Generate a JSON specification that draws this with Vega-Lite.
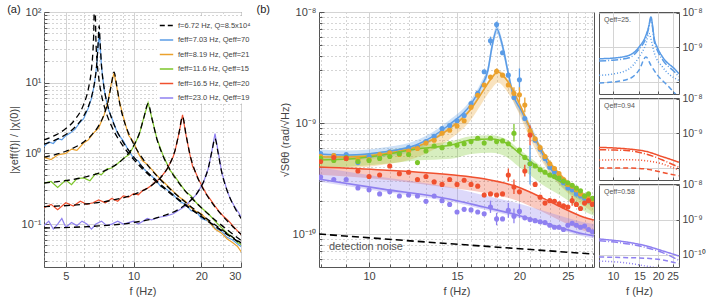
{
"$schema":"https://vega.github.io/schema/vega-lite/v6.json",
"padding":{"left":6,"top":3,"right":1,"bottom":1},
"bounds":"flush",
"spacing":78,
"resolve":{"scale":{"color":"independent","stroke":"independent","strokeDash":"independent"},"legend":{"color":"independent","stroke":"independent","strokeDash":"independent"}},
"config":{
 "font":"Liberation Sans",
 "view":{"stroke":"#555","strokeWidth":1},
 "axis":{"labelFont":"Liberation Sans","labelColor":"#444","labelFontSize":11,"titleFont":"Liberation Sans","titleFontWeight":"normal","titleColor":"#444","titleFontSize":11,"domain":false,"gridColor":"#d4d4d4","tickColor":"#555","tickSize":-4,"labelPadding":7},
 "legend":{"labelFont":"Liberation Sans","labelColor":"#444"}
},
"datasets":{
 "a_fit":[
  {"s":"k","f":4,"v":1.549},{"s":"k","f":4.5,"v":1.813},{"s":"k","f":5,"v":2.24},{"s":"k","f":5.5,"v":3.029},{"s":"k","f":6,"v":4.931},{"s":"k","f":6.3,"v":8.26},{"s":"k","f":6.5,"v":15.5},{"s":"k","f":6.6,"v":28.2},{"s":"k","f":6.65,"v":48.2},{"s":"k","f":6.69,"v":112},{"s":"k","f":6.75,"v":111.7},{"s":"k","f":6.8,"v":41.7},{"s":"k","f":6.9,"v":18.4},{"s":"k","f":7,"v":11.76},{"s":"k","f":7.2,"v":6.76},{"s":"k","f":7.5,"v":4.07},{"s":"k","f":8,"v":2.397},{"s":"k","f":9,"v":1.26},{"s":"k","f":10,"v":0.8234},{"s":"k","f":12,"v":0.4569},{"s":"k","f":15,"v":0.2511},{"s":"k","f":20,"v":0.1271},{"s":"k","f":25,"v":0.0779},{"s":"k","f":31,"v":0.0493},
  {"s":"b","f":4,"v":1.351},{"s":"b","f":4.5,"v":1.548},{"s":"b","f":5,"v":1.849},{"s":"b","f":5.5,"v":2.356},{"s":"b","f":6,"v":3.365},{"s":"b","f":6.3,"v":4.631},{"s":"b","f":6.5,"v":6.271},{"s":"b","f":6.7,"v":9.859},{"s":"b","f":6.85,"v":17.43},{"s":"b","f":6.95,"v":34.25},{"s":"b","f":7.03,"v":63.96},{"s":"b","f":7.1,"v":37.02},{"s":"b","f":7.2,"v":17.89},{"s":"b","f":7.4,"v":8.378},{"s":"b","f":7.7,"v":4.562},{"s":"b","f":8,"v":3.097},{"s":"b","f":8.5,"v":1.978},{"s":"b","f":9,"v":1.43},{"s":"b","f":10,"v":0.8928},{"s":"b","f":11,"v":0.6309},{"s":"b","f":12.5,"v":0.4227},{"s":"b","f":14,"v":0.3081},{"s":"b","f":16,"v":0.2186},{"s":"b","f":19,"v":0.1449},{"s":"b","f":23,"v":0.09416},{"s":"b","f":27,"v":0.06645},{"s":"b","f":31,"v":0.04954},
  {"s":"o","f":4,"v":0.8837},{"s":"o","f":5,"v":1.0721},{"s":"o","f":6,"v":1.449},{"s":"o","f":6.5,"v":1.8095},{"s":"o","f":7,"v":2.4702},{"s":"o","f":7.4,"v":3.57},{"s":"o","f":7.7,"v":5.411},{"s":"o","f":7.95,"v":9.102},{"s":"o","f":8.19,"v":14.138},{"s":"o","f":8.4,"v":9.443},{"s":"o","f":8.7,"v":4.878},{"s":"o","f":9,"v":3.145},{"s":"o","f":9.5,"v":1.924},{"s":"o","f":10,"v":1.362},{"s":"o","f":11,"v":0.8348},{"s":"o","f":12,"v":0.586},{"s":"o","f":14,"v":0.35},{"s":"o","f":17,"v":0.2035},{"s":"o","f":20,"v":0.1356},{"s":"o","f":24,"v":0.0887},{"s":"o","f":28,"v":0.063},{"s":"o","f":31,"v":0.0505},
  {"s":"g","f":4,"v":0.3809},{"s":"g","f":5,"v":0.4119},{"s":"g","f":6,"v":0.4577},{"s":"g","f":7,"v":0.5267},{"s":"g","f":8,"v":0.6376},{"s":"g","f":9,"v":0.8361},{"s":"g","f":10,"v":1.2751},{"s":"g","f":10.6,"v":1.9082},{"s":"g","f":11.1,"v":3.1736},{"s":"g","f":11.6,"v":5.034},{"s":"g","f":12.1,"v":2.9908},{"s":"g","f":12.7,"v":1.5858},{"s":"g","f":13.5,"v":0.925},{"s":"g","f":14.5,"v":0.5902},{"s":"g","f":16,"v":0.3699},{"s":"g","f":18,"v":0.2377},{"s":"g","f":20,"v":0.17},{"s":"g","f":23,"v":0.1145},{"s":"g","f":27,"v":0.076},{"s":"g","f":31,"v":0.0546},
  {"s":"r","f":4,"v":0.1762},{"s":"r","f":6,"v":0.1911},{"s":"r","f":8,"v":0.2167},{"s":"r","f":10,"v":0.2619},{"s":"r","f":12,"v":0.3511},{"s":"r","f":13.5,"v":0.498},{"s":"r","f":14.5,"v":0.7152},{"s":"r","f":15.3,"v":1.1236},{"s":"r","f":15.9,"v":1.9258},{"s":"r","f":16.5,"v":3.317},{"s":"r","f":17.1,"v":1.8353},{"s":"r","f":17.8,"v":0.9619},{"s":"r","f":18.8,"v":0.5463},{"s":"r","f":20,"v":0.3506},{"s":"r","f":22,"v":0.2125},{"s":"r","f":25,"v":0.1278},{"s":"r","f":28,"v":0.0882},{"s":"r","f":31,"v":0.0656},
  {"s":"p","f":4,"v":0.088},{"s":"p","f":7,"v":0.0941},{"s":"p","f":10,"v":0.1053},{"s":"p","f":13,"v":0.1253},{"s":"p","f":16,"v":0.165},{"s":"p","f":18,"v":0.2191},{"s":"p","f":19.5,"v":0.2998},{"s":"p","f":20.5,"v":0.4048},{"s":"p","f":21.5,"v":0.6303},{"s":"p","f":22.3,"v":1.0844},{"s":"p","f":23,"v":1.622},{"s":"p","f":23.7,"v":1.0383},{"s":"p","f":24.6,"v":0.5522},{"s":"p","f":26,"v":0.3004},{"s":"p","f":28,"v":0.1756},{"s":"p","f":31,"v":0.1041}
 ],
 "a_dat":[
  {"s":"b","f":4,"v":1.25},{"s":"b","f":4.2,"v":1.45},{"s":"b","f":4.4,"v":1.38},{"s":"b","f":4.6,"v":1.62},{"s":"b","f":4.8,"v":1.55},{"s":"b","f":5,"v":1.78},{"s":"b","f":5.25,"v":1.95},{"s":"b","f":5.5,"v":2.2},{"s":"b","f":5.75,"v":2.7},{"s":"b","f":6,"v":3.1},{"s":"b","f":6.3,"v":4.4},{"s":"b","f":6.5,"v":6.0},{"s":"b","f":6.7,"v":9.5},{"s":"b","f":6.85,"v":17},{"s":"b","f":6.95,"v":31},{"s":"b","f":7.03,"v":52},{"s":"b","f":7.1,"v":35},{"s":"b","f":7.2,"v":17},{"s":"b","f":7.4,"v":8.0},{"s":"b","f":7.7,"v":4.3},{"s":"b","f":8,"v":3.2},{"s":"b","f":8.5,"v":1.9},{"s":"b","f":9,"v":1.5},{"s":"b","f":9.5,"v":1.1},{"s":"b","f":10,"v":0.85},{"s":"b","f":10.5,"v":0.78},{"s":"b","f":11,"v":0.62},{"s":"b","f":11.8,"v":0.5},{"s":"b","f":12.5,"v":0.43},{"s":"b","f":13.2,"v":0.34},{"s":"b","f":14,"v":0.31},{"s":"b","f":15,"v":0.26},{"s":"b","f":16,"v":0.21},{"s":"b","f":17,"v":0.19},{"s":"b","f":18,"v":0.155},{"s":"b","f":19,"v":0.15},{"s":"b","f":20,"v":0.12},{"s":"b","f":21.5,"v":0.11},{"s":"b","f":23,"v":0.088},{"s":"b","f":24.5,"v":0.08},{"s":"b","f":26,"v":0.065},{"s":"b","f":27.5,"v":0.06},{"s":"b","f":29,"v":0.052},{"s":"b","f":31,"v":0.045},
  {"s":"o","f":4,"v":0.88},{"s":"o","f":4.3,"v":0.82},{"s":"o","f":4.6,"v":0.95},{"s":"o","f":5,"v":1.0},{"s":"o","f":5.3,"v":1.15},{"s":"o","f":5.6,"v":1.1},{"s":"o","f":6,"v":1.4},{"s":"o","f":6.3,"v":1.55},{"s":"o","f":6.6,"v":1.9},{"s":"o","f":7,"v":2.3},{"s":"o","f":7.4,"v":3.5},{"s":"o","f":7.7,"v":5.5},{"s":"o","f":7.95,"v":9.5},{"s":"o","f":8.19,"v":13.8},{"s":"o","f":8.4,"v":9.0},{"s":"o","f":8.7,"v":5.0},{"s":"o","f":9,"v":3.3},{"s":"o","f":9.5,"v":1.8},{"s":"o","f":10,"v":1.45},{"s":"o","f":10.5,"v":1.0},{"s":"o","f":11,"v":0.78},{"s":"o","f":11.5,"v":0.7},{"s":"o","f":12,"v":0.6},{"s":"o","f":13,"v":0.45},{"s":"o","f":14,"v":0.36},{"s":"o","f":15,"v":0.29},{"s":"o","f":16,"v":0.24},{"s":"o","f":17,"v":0.21},{"s":"o","f":18,"v":0.17},{"s":"o","f":19,"v":0.15},{"s":"o","f":20,"v":0.14},{"s":"o","f":21.5,"v":0.11},{"s":"o","f":23,"v":0.085},{"s":"o","f":24.5,"v":0.075},{"s":"o","f":26,"v":0.062},{"s":"o","f":27.5,"v":0.055},{"s":"o","f":29,"v":0.048},{"s":"o","f":31,"v":0.035},
  {"s":"g","f":4,"v":0.38},{"s":"g","f":4.3,"v":0.4},{"s":"g","f":4.6,"v":0.33},{"s":"g","f":5,"v":0.42},{"s":"g","f":5.3,"v":0.36},{"s":"g","f":5.6,"v":0.44},{"s":"g","f":6,"v":0.45},{"s":"g","f":6.4,"v":0.41},{"s":"g","f":6.8,"v":0.52},{"s":"g","f":7.2,"v":0.5},{"s":"g","f":7.6,"v":0.6},{"s":"g","f":8,"v":0.62},{"s":"g","f":8.5,"v":0.72},{"s":"g","f":9,"v":0.85},{"s":"g","f":9.5,"v":0.95},{"s":"g","f":10,"v":1.25},{"s":"g","f":10.6,"v":1.85},{"s":"g","f":11.1,"v":3.2},{"s":"g","f":11.6,"v":5.2},{"s":"g","f":12.1,"v":3.0},{"s":"g","f":12.7,"v":1.6},{"s":"g","f":13.5,"v":0.95},{"s":"g","f":14.5,"v":0.58},{"s":"g","f":15.2,"v":0.48},{"s":"g","f":16,"v":0.38},{"s":"g","f":17,"v":0.29},{"s":"g","f":18,"v":0.25},{"s":"g","f":19,"v":0.2},{"s":"g","f":20,"v":0.17},{"s":"g","f":21.5,"v":0.14},{"s":"g","f":23,"v":0.11},{"s":"g","f":24.5,"v":0.09},{"s":"g","f":26,"v":0.075},{"s":"g","f":27.5,"v":0.065},{"s":"g","f":29,"v":0.055},{"s":"g","f":31,"v":0.048},
  {"s":"r","f":4,"v":0.17},{"s":"r","f":4.3,"v":0.19},{"s":"r","f":4.6,"v":0.16},{"s":"r","f":5,"v":0.2},{"s":"r","f":5.4,"v":0.18},{"s":"r","f":5.8,"v":0.21},{"s":"r","f":6.2,"v":0.19},{"s":"r","f":6.6,"v":0.2},{"s":"r","f":7,"v":0.22},{"s":"r","f":7.5,"v":0.2},{"s":"r","f":8,"v":0.23},{"s":"r","f":8.5,"v":0.21},{"s":"r","f":9,"v":0.25},{"s":"r","f":9.5,"v":0.24},{"s":"r","f":10,"v":0.27},{"s":"r","f":10.5,"v":0.26},{"s":"r","f":11,"v":0.3},{"s":"r","f":11.5,"v":0.32},{"s":"r","f":12,"v":0.35},{"s":"r","f":12.5,"v":0.4},{"s":"r","f":13,"v":0.43},{"s":"r","f":13.5,"v":0.5},{"s":"r","f":14,"v":0.58},{"s":"r","f":14.5,"v":0.72},{"s":"r","f":15,"v":0.9},{"s":"r","f":15.3,"v":1.1},{"s":"r","f":15.9,"v":1.9},{"s":"r","f":16.5,"v":3.5},{"s":"r","f":17.1,"v":1.8},{"s":"r","f":17.8,"v":0.95},{"s":"r","f":18.3,"v":0.65},{"s":"r","f":18.8,"v":0.55},{"s":"r","f":19.5,"v":0.42},{"s":"r","f":20,"v":0.36},{"s":"r","f":21,"v":0.27},{"s":"r","f":22,"v":0.22},{"s":"r","f":23,"v":0.18},{"s":"r","f":24,"v":0.15},{"s":"r","f":25,"v":0.13},{"s":"r","f":26.5,"v":0.11},{"s":"r","f":28,"v":0.09},{"s":"r","f":29.5,"v":0.075},{"s":"r","f":31,"v":0.065},
  {"s":"p","f":4,"v":0.095},{"s":"p","f":4.2,"v":0.11},{"s":"p","f":4.4,"v":0.085},{"s":"p","f":4.6,"v":0.1},{"s":"p","f":4.8,"v":0.12},{"s":"p","f":5,"v":0.09},{"s":"p","f":5.3,"v":0.105},{"s":"p","f":5.6,"v":0.095},{"s":"p","f":5.9,"v":0.11},{"s":"p","f":6.2,"v":0.1},{"s":"p","f":6.5,"v":0.085},{"s":"p","f":6.8,"v":0.1},{"s":"p","f":7.2,"v":0.11},{"s":"p","f":7.6,"v":0.095},{"s":"p","f":8,"v":0.1},{"s":"p","f":8.5,"v":0.11},{"s":"p","f":9,"v":0.1},{"s":"p","f":9.5,"v":0.105},{"s":"p","f":10,"v":0.11},{"s":"p","f":10.5,"v":0.1},{"s":"p","f":11,"v":0.11},{"s":"p","f":11.5,"v":0.12},{"s":"p","f":12,"v":0.115},{"s":"p","f":13,"v":0.125},{"s":"p","f":14,"v":0.13},{"s":"p","f":15,"v":0.14},{"s":"p","f":16,"v":0.16},{"s":"p","f":17,"v":0.18},{"s":"p","f":18,"v":0.22},{"s":"p","f":19,"v":0.26},{"s":"p","f":19.5,"v":0.3},{"s":"p","f":20.5,"v":0.4},{"s":"p","f":21.5,"v":0.62},{"s":"p","f":22.3,"v":1.1},{"s":"p","f":23,"v":1.9},{"s":"p","f":23.7,"v":1.1},{"s":"p","f":24.6,"v":0.55},{"s":"p","f":26,"v":0.3},{"s":"p","f":27,"v":0.22},{"s":"p","f":28,"v":0.18},{"s":"p","f":29.5,"v":0.14},{"s":"p","f":31,"v":0.1}
 ],
 "b_fit":[
  {"s":"b","f":7.94,"v":5.26e-10},{"s":"b","f":9.12,"v":5.15e-10},{"s":"b","f":10.67,"v":5.48e-10},{"s":"b","f":12.42,"v":6.34e-10},{"s":"b","f":14.45,"v":9.6e-10},{"s":"b","f":16.0,"v":1.48e-9},{"s":"b","f":16.75,"v":2.11e-9},{"s":"b","f":17.3,"v":3.0e-9},{"s":"b","f":17.62,"v":4.84e-9},{"s":"b","f":18.03,"v":7.03e-9},{"s":"b","f":18.37,"v":5.6e-9},{"s":"b","f":18.62,"v":4.36e-9},{"s":"b","f":18.97,"v":2.88e-9},{"s":"b","f":19.41,"v":1.82e-9},{"s":"b","f":20.14,"v":1.31e-9},{"s":"b","f":21.09,"v":8.65e-10},{"s":"b","f":23.12,"v":3.86e-10},{"s":"b","f":25.35,"v":2.54e-10},{"s":"b","f":28.18,"v":1.94e-10},
  {"s":"o","f":7.94,"v":4.94e-10},{"s":"o","f":9.12,"v":4.94e-10},{"s":"o","f":10.67,"v":5.26e-10},{"s":"o","f":12.42,"v":6.08e-10},{"s":"o","f":14.45,"v":8.83e-10},{"s":"o","f":16.0,"v":1.34e-9},{"s":"o","f":16.75,"v":1.82e-9},{"s":"o","f":17.54,"v":2.49e-9},{"s":"o","f":18.11,"v":2.88e-9},{"s":"o","f":18.79,"v":2.49e-9},{"s":"o","f":19.41,"v":1.98e-9},{"s":"o","f":20.14,"v":1.39e-9},{"s":"o","f":21.09,"v":8.65e-10},{"s":"o","f":23.12,"v":4.28e-10},{"s":"o","f":25.35,"v":2.76e-10},{"s":"o","f":28.18,"v":1.94e-10},
  {"s":"g","f":7.94,"v":4.65e-10},{"s":"g","f":9.12,"v":4.74e-10},{"s":"g","f":10.67,"v":5.15e-10},{"s":"g","f":12.42,"v":5.83e-10},{"s":"g","f":14.59,"v":6.34e-10},{"s":"g","f":16.0,"v":7.03e-10},{"s":"g","f":17.54,"v":7.18e-10},{"s":"g","f":18.97,"v":6.47e-10},{"s":"g","f":19.86,"v":5.48e-10},{"s":"g","f":21.09,"v":4.46e-10},{"s":"g","f":22.08,"v":3.78e-10},{"s":"g","f":24.21,"v":2.94e-10},{"s":"g","f":26.92,"v":2.15e-10},{"s":"g","f":28.18,"v":1.94e-10},
  {"s":"r","f":7.94,"v":4.02e-10},{"s":"r","f":10.67,"v":3.78e-10},{"s":"r","f":14.59,"v":3.42e-10},{"s":"r","f":16.98,"v":3.15e-10},{"s":"r","f":19.86,"v":2.65e-10},{"s":"r","f":22.08,"v":2.15e-10},{"s":"r","f":24.21,"v":1.75e-10},{"s":"r","f":26.92,"v":1.42e-10},{"s":"r","f":28.18,"v":1.34e-10},
  {"s":"p","f":7.94,"v":3.12e-10},{"s":"p","f":10.67,"v":2.54e-10},{"s":"p","f":14.45,"v":2.07e-10},{"s":"p","f":16.98,"v":1.75e-10},{"s":"p","f":19.86,"v":1.48e-10},{"s":"p","f":23.12,"v":1.21e-10},{"s":"p","f":26.92,"v":1.0e-10},{"s":"p","f":28.18,"v":9.6e-11}
 ],
 "b_band":[
  {"s":"b","f":7.94,"lo":4.73e-10,"hi":5.79e-10},{"s":"b","f":9.12,"lo":4.64e-10,"hi":5.67e-10},{"s":"b","f":10.67,"lo":4.93e-10,"hi":6.03e-10},{"s":"b","f":12.42,"lo":5.71e-10,"hi":6.97e-10},{"s":"b","f":14.45,"lo":8.64e-10,"hi":1.056e-9},{"s":"b","f":16.0,"lo":1.33e-9,"hi":1.63e-9},{"s":"b","f":16.75,"lo":1.9e-9,"hi":2.32e-9},{"s":"b","f":17.3,"lo":2.7e-9,"hi":3.3e-9},{"s":"b","f":17.62,"lo":4.36e-9,"hi":5.32e-9},{"s":"b","f":18.03,"lo":6.33e-9,"hi":7.73e-9},{"s":"b","f":18.37,"lo":5.04e-9,"hi":6.16e-9},{"s":"b","f":18.62,"lo":3.92e-9,"hi":4.8e-9},{"s":"b","f":18.97,"lo":2.59e-9,"hi":3.17e-9},{"s":"b","f":19.41,"lo":1.64e-9,"hi":2.0e-9},{"s":"b","f":20.14,"lo":1.18e-9,"hi":1.44e-9},{"s":"b","f":21.09,"lo":7.79e-10,"hi":9.52e-10},{"s":"b","f":23.12,"lo":3.47e-10,"hi":4.25e-10},{"s":"b","f":25.35,"lo":2.29e-10,"hi":2.79e-10},{"s":"b","f":28.18,"lo":1.75e-10,"hi":2.13e-10},
  {"s":"o","f":7.94,"lo":3.95e-10,"hi":5.19e-10},{"s":"o","f":9.12,"lo":3.95e-10,"hi":5.19e-10},{"s":"o","f":10.67,"lo":4.21e-10,"hi":5.52e-10},{"s":"o","f":12.42,"lo":4.86e-10,"hi":6.38e-10},{"s":"o","f":14.45,"lo":7.06e-10,"hi":9.27e-10},{"s":"o","f":16.0,"lo":1.07e-9,"hi":1.41e-9},{"s":"o","f":16.75,"lo":1.46e-9,"hi":1.91e-9},{"s":"o","f":17.54,"lo":1.99e-9,"hi":2.61e-9},{"s":"o","f":18.11,"lo":2.3e-9,"hi":3.02e-9},{"s":"o","f":18.79,"lo":1.99e-9,"hi":2.61e-9},{"s":"o","f":19.41,"lo":1.58e-9,"hi":2.08e-9},{"s":"o","f":20.14,"lo":1.11e-9,"hi":1.46e-9},{"s":"o","f":21.09,"lo":6.92e-10,"hi":9.08e-10},{"s":"o","f":23.12,"lo":3.42e-10,"hi":4.49e-10},{"s":"o","f":25.35,"lo":2.21e-10,"hi":2.9e-10},{"s":"o","f":28.18,"lo":1.55e-10,"hi":2.04e-10},
  {"s":"g","f":7.94,"lo":3.95e-10,"hi":5.02e-10},{"s":"g","f":9.12,"lo":4.03e-10,"hi":5.12e-10},{"s":"g","f":10.67,"lo":4.27e-10,"hi":5.56e-10},{"s":"g","f":12.42,"lo":4.6e-10,"hi":6.3e-10},{"s":"g","f":14.59,"lo":4.76e-10,"hi":6.85e-10},{"s":"g","f":16.0,"lo":5.27e-10,"hi":7.59e-10},{"s":"g","f":17.54,"lo":5.39e-10,"hi":7.75e-10},{"s":"g","f":18.97,"lo":4.85e-10,"hi":6.99e-10},{"s":"g","f":19.86,"lo":4.11e-10,"hi":5.92e-10},{"s":"g","f":21.09,"lo":3.35e-10,"hi":4.82e-10},{"s":"g","f":22.08,"lo":2.84e-10,"hi":4.08e-10},{"s":"g","f":24.21,"lo":2.21e-10,"hi":3.18e-10},{"s":"g","f":26.92,"lo":1.61e-10,"hi":2.32e-10},{"s":"g","f":28.18,"lo":1.46e-10,"hi":2.1e-10},
  {"s":"r","f":7.94,"lo":3.42e-10,"hi":4.02e-10},{"s":"r","f":10.67,"lo":3.1e-10,"hi":3.78e-10},{"s":"r","f":14.59,"lo":2.6e-10,"hi":3.42e-10},{"s":"r","f":16.98,"lo":2.36e-10,"hi":3.15e-10},{"s":"r","f":19.86,"lo":1.99e-10,"hi":2.65e-10},{"s":"r","f":22.08,"lo":1.61e-10,"hi":2.15e-10},{"s":"r","f":24.21,"lo":1.31e-10,"hi":1.75e-10},{"s":"r","f":26.92,"lo":1.07e-10,"hi":1.42e-10},{"s":"r","f":28.18,"lo":1.0e-10,"hi":1.34e-10},
  {"s":"p","f":7.94,"lo":2.96e-10,"hi":3.99e-10},{"s":"p","f":10.67,"lo":2.41e-10,"hi":3.25e-10},{"s":"p","f":14.45,"lo":1.97e-10,"hi":2.65e-10},{"s":"p","f":16.98,"lo":1.66e-10,"hi":2.24e-10},{"s":"p","f":19.86,"lo":1.41e-10,"hi":1.89e-10},{"s":"p","f":23.12,"lo":1.15e-10,"hi":1.55e-10},{"s":"p","f":26.92,"lo":9.5e-11,"hi":1.28e-10},{"s":"p","f":28.18,"lo":9.1e-11,"hi":1.23e-10}
 ],
 "b_pts":[
  {"s":"b","f":8,"v":5.3e-10},{"s":"b","f":8.5,"v":5.1e-10},{"s":"b","f":9,"v":5.2e-10},{"s":"b","f":9.5,"v":4.4e-10},{"s":"b","f":10,"v":5.0e-10},{"s":"b","f":10.5,"v":5.1e-10},{"s":"b","f":11,"v":5.5e-10},{"s":"b","f":11.5,"v":5.3e-10},{"s":"b","f":12,"v":6.0e-10},{"s":"b","f":12.5,"v":6.1e-10},{"s":"b","f":13,"v":6.8e-10},{"s":"b","f":13.5,"v":7.6e-10},{"s":"b","f":14,"v":8.9e-10},{"s":"b","f":14.5,"v":9.5e-10},{"s":"b","f":15,"v":1.05e-9},{"s":"b","f":15.5,"v":1.17e-9},{"s":"b","f":16,"v":1.5e-9},{"s":"b","f":16.5,"v":1.85e-9},{"s":"b","f":17,"v":2.9e-9},{"s":"b","f":17.5,"v":5.5e-9,"lo":5.0e-9,"hi":6.0e-9},{"s":"b","f":18,"v":7.7e-9,"lo":7.2e-9,"hi":8.2e-9},{"s":"b","f":18.5,"v":4.3e-9},{"s":"b","f":19,"v":2.7e-9},{"s":"b","f":19.5,"v":1.7e-9},{"s":"b","f":20,"v":2.45e-9,"lo":1.95e-9,"hi":3.1e-9},{"s":"b","f":20.5,"v":1.1e-9},{"s":"b","f":21,"v":4.3e-10,"lo":2.8e-10,"hi":6.3e-10},{"s":"b","f":21.5,"v":7.0e-10},{"s":"b","f":22,"v":5.8e-10},{"s":"b","f":22.5,"v":4.8e-10},{"s":"b","f":23,"v":4.0e-10},{"s":"b","f":23.5,"v":3.6e-10},{"s":"b","f":24,"v":3.2e-10},{"s":"b","f":24.5,"v":2.9e-10},{"s":"b","f":25,"v":2.6e-10},{"s":"b","f":25.5,"v":2.5e-10},{"s":"b","f":26,"v":2.3e-10},{"s":"b","f":26.5,"v":2.2e-10},{"s":"b","f":27,"v":2.1e-10},{"s":"b","f":27.5,"v":2.0e-10},{"s":"b","f":28,"v":1.9e-10},
  {"s":"o","f":8,"v":5.0e-10},{"s":"o","f":8.5,"v":5.1e-10},{"s":"o","f":9,"v":4.8e-10},{"s":"o","f":9.5,"v":4.7e-10},{"s":"o","f":10,"v":4.7e-10},{"s":"o","f":10.5,"v":5.2e-10},{"s":"o","f":11,"v":5.4e-10},{"s":"o","f":11.5,"v":5.2e-10},{"s":"o","f":12,"v":5.6e-10},{"s":"o","f":12.5,"v":5.9e-10},{"s":"o","f":13,"v":6.6e-10},{"s":"o","f":13.5,"v":7.0e-10},{"s":"o","f":14,"v":8.1e-10},{"s":"o","f":14.5,"v":8.6e-10},{"s":"o","f":15,"v":9.4e-10},{"s":"o","f":15.5,"v":1.05e-9},{"s":"o","f":16,"v":1.39e-9},{"s":"o","f":16.5,"v":1.78e-9},{"s":"o","f":17,"v":2.2e-9},{"s":"o","f":17.5,"v":2.6e-9},{"s":"o","f":18,"v":2.92e-9,"lo":2.75e-9,"hi":3.1e-9},{"s":"o","f":18.5,"v":2.7e-9},{"s":"o","f":19,"v":2.2e-9},{"s":"o","f":19.5,"v":1.85e-9,"lo":1.6e-9,"hi":2.1e-9},{"s":"o","f":20,"v":1.8e-9,"lo":1.55e-9,"hi":2.1e-9},{"s":"o","f":20.5,"v":1.45e-9,"lo":1.25e-9,"hi":1.7e-9},{"s":"o","f":21,"v":8.5e-10},{"s":"o","f":21.5,"v":7.2e-10},{"s":"o","f":22,"v":6.0e-10},{"s":"o","f":22.5,"v":5.0e-10},{"s":"o","f":23,"v":4.3e-10},{"s":"o","f":23.5,"v":3.9e-10},{"s":"o","f":24,"v":3.5e-10},{"s":"o","f":24.5,"v":3.1e-10},{"s":"o","f":25,"v":2.8e-10},{"s":"o","f":25.5,"v":2.7e-10},{"s":"o","f":26,"v":2.5e-10},{"s":"o","f":26.5,"v":2.3e-10},{"s":"o","f":27,"v":2.2e-10},{"s":"o","f":27.5,"v":2.1e-10},{"s":"o","f":28,"v":1.95e-10},
  {"s":"g","f":8,"v":4.8e-10},{"s":"g","f":8.5,"v":4.6e-10},{"s":"g","f":9,"v":4.9e-10},{"s":"g","f":9.5,"v":4.5e-10},{"s":"g","f":10,"v":4.6e-10},{"s":"g","f":10.5,"v":4.8e-10},{"s":"g","f":11,"v":5.0e-10},{"s":"g","f":11.5,"v":5.3e-10},{"s":"g","f":12,"v":5.2e-10},{"s":"g","f":12.5,"v":4.4e-10},{"s":"g","f":13,"v":5.6e-10},{"s":"g","f":13.5,"v":6.2e-10},{"s":"g","f":14,"v":6.0e-10},{"s":"g","f":14.5,"v":6.5e-10},{"s":"g","f":15,"v":6.3e-10},{"s":"g","f":15.5,"v":6.5e-10},{"s":"g","f":16,"v":6.8e-10},{"s":"g","f":16.5,"v":7.3e-10},{"s":"g","f":17,"v":6.6e-10},{"s":"g","f":17.5,"v":7.3e-10},{"s":"g","f":18,"v":6.8e-10},{"s":"g","f":18.5,"v":6.9e-10},{"s":"g","f":19,"v":6.5e-10},{"s":"g","f":19.5,"v":8.1e-10,"lo":6.8e-10,"hi":9.8e-10},{"s":"g","f":20,"v":5.7e-10},{"s":"g","f":20.5,"v":4.9e-10},{"s":"g","f":21,"v":4.3e-10},{"s":"g","f":21.5,"v":4.1e-10},{"s":"g","f":22,"v":3.8e-10},{"s":"g","f":22.5,"v":3.6e-10},{"s":"g","f":23,"v":3.4e-10},{"s":"g","f":23.5,"v":3.3e-10},{"s":"g","f":24,"v":3.2e-10},{"s":"g","f":24.5,"v":3.0e-10},{"s":"g","f":25,"v":2.9e-10},{"s":"g","f":25.5,"v":2.75e-10},{"s":"g","f":26,"v":2.6e-10},{"s":"g","f":26.5,"v":2.45e-10},{"s":"g","f":27,"v":2.2e-10},{"s":"g","f":27.5,"v":2.3e-10},{"s":"g","f":28,"v":2.1e-10},
  {"s":"r","f":8,"v":4.5e-10},{"s":"r","f":8.5,"v":4.9e-10},{"s":"r","f":9,"v":4.8e-10},{"s":"r","f":9.5,"v":3.7e-10},{"s":"r","f":10,"v":3.3e-10},{"s":"r","f":10.5,"v":3.4e-10},{"s":"r","f":11,"v":4.1e-10},{"s":"r","f":11.5,"v":3.5e-10},{"s":"r","f":12,"v":3.6e-10},{"s":"r","f":12.5,"v":3.1e-10},{"s":"r","f":13,"v":3.3e-10},{"s":"r","f":13.5,"v":2.95e-10},{"s":"r","f":14,"v":2.8e-10},{"s":"r","f":14.5,"v":3.1e-10},{"s":"r","f":15,"v":2.8e-10},{"s":"r","f":15.5,"v":3.05e-10},{"s":"r","f":16,"v":2.8e-10},{"s":"r","f":16.5,"v":2.7e-10},{"s":"r","f":17,"v":2.25e-10},{"s":"r","f":17.5,"v":2.3e-10},{"s":"r","f":18,"v":2.25e-10},{"s":"r","f":18.5,"v":2.3e-10},{"s":"r","f":19,"v":3.4e-10,"lo":3.0e-10,"hi":3.9e-10},{"s":"r","f":19.5,"v":2.65e-10,"lo":2.3e-10,"hi":3.1e-10},{"s":"r","f":20,"v":2.4e-10},{"s":"r","f":20.5,"v":3.7e-10,"lo":3.3e-10,"hi":4.2e-10},{"s":"r","f":21,"v":7.8e-10,"lo":6.3e-10,"hi":9.5e-10},{"s":"r","f":21.5,"v":2.8e-10},{"s":"r","f":22,"v":2.15e-10},{"s":"r","f":22.5,"v":1.9e-10},{"s":"r","f":23,"v":2.0e-10},{"s":"r","f":23.5,"v":1.97e-10},{"s":"r","f":24,"v":1.87e-10},{"s":"r","f":24.5,"v":1.8e-10},{"s":"r","f":25,"v":1.75e-10},{"s":"r","f":25.5,"v":2.0e-10,"lo":1.8e-10,"hi":2.2e-10},{"s":"r","f":26,"v":1.85e-10},{"s":"r","f":26.5,"v":1.7e-10},{"s":"r","f":27,"v":1.9e-10},{"s":"r","f":27.5,"v":2.0e-10},{"s":"r","f":28,"v":1.85e-10},
  {"s":"p","f":8,"v":3.27e-10},{"s":"p","f":8.5,"v":3.1e-10},{"s":"p","f":9,"v":3.1e-10},{"s":"p","f":9.5,"v":2.6e-10},{"s":"p","f":10,"v":2.5e-10},{"s":"p","f":10.5,"v":2.3e-10},{"s":"p","f":11,"v":2.4e-10},{"s":"p","f":11.5,"v":2.2e-10},{"s":"p","f":12,"v":2.25e-10},{"s":"p","f":12.5,"v":2.2e-10},{"s":"p","f":13,"v":1.97e-10},{"s":"p","f":13.5,"v":2.2e-10},{"s":"p","f":14,"v":2.0e-10},{"s":"p","f":14.5,"v":1.85e-10},{"s":"p","f":15,"v":1.58e-10},{"s":"p","f":15.5,"v":1.67e-10},{"s":"p","f":16,"v":1.65e-10},{"s":"p","f":16.5,"v":1.58e-10},{"s":"p","f":17,"v":1.52e-10},{"s":"p","f":17.5,"v":1.75e-10,"lo":1.55e-10,"hi":2.0e-10},{"s":"p","f":18,"v":1.37e-10,"lo":1.2e-10,"hi":1.55e-10},{"s":"p","f":18.5,"v":1.37e-10},{"s":"p","f":19,"v":1.64e-10,"lo":1.4e-10,"hi":1.9e-10},{"s":"p","f":19.5,"v":1.45e-10,"lo":1.25e-10,"hi":1.7e-10},{"s":"p","f":20,"v":1.6e-10,"lo":1.4e-10,"hi":1.85e-10},{"s":"p","f":20.5,"v":1.4e-10},{"s":"p","f":21,"v":1.35e-10},{"s":"p","f":21.5,"v":1.32e-10},{"s":"p","f":22,"v":1.29e-10},{"s":"p","f":22.5,"v":1.27e-10},{"s":"p","f":23,"v":1.2e-10},{"s":"p","f":23.5,"v":1.15e-10},{"s":"p","f":24,"v":1.15e-10},{"s":"p","f":24.5,"v":1.1e-10},{"s":"p","f":25,"v":1.2e-10},{"s":"p","f":25.5,"v":1.25e-10},{"s":"p","f":26,"v":1.2e-10},{"s":"p","f":26.5,"v":1.15e-10},{"s":"p","f":27,"v":1.18e-10},{"s":"p","f":27.5,"v":1.1e-10},{"s":"p","f":28,"v":1.05e-10}
 ],
 "noise":[{"f":7.94,"v":1.0e-10},{"f":13,"v":8.48e-11},{"f":28.18,"v":6.6e-11}],
 "c":[
  {"p":1,"k":"s","f":8.07,"v":4.69e-10},{"p":1,"k":"s","f":10,"v":4.9e-10},{"p":1,"k":"s","f":12.79,"v":5.89e-10},{"p":1,"k":"s","f":14.91,"v":1.02e-9},{"p":1,"k":"s","f":16.6,"v":2.24e-9},{"p":1,"k":"s","f":17.3,"v":3.98e-9},{"p":1,"k":"s","f":17.92,"v":7.59e-9},{"p":1,"k":"s","f":18.4,"v":3.98e-9},{"p":1,"k":"s","f":18.77,"v":2.0e-9},{"p":1,"k":"s","f":19.86,"v":9.5e-10},{"p":1,"k":"s","f":21.45,"v":5.25e-10},{"p":1,"k":"s","f":26.3,"v":2.19e-10},{"p":1,"k":"s","f":27.54,"v":1.74e-10},
  {"p":1,"k":"dd","f":8.07,"v":4.07e-10},{"p":1,"k":"dd","f":10,"v":4.27e-10},{"p":1,"k":"dd","f":12.79,"v":5.0e-10},{"p":1,"k":"dd","f":14.91,"v":8.9e-10},{"p":1,"k":"dd","f":16.6,"v":1.9e-9},{"p":1,"k":"dd","f":17.3,"v":3.55e-9},{"p":1,"k":"dd","f":17.92,"v":6.9e-9},{"p":1,"k":"dd","f":18.4,"v":3.55e-9},{"p":1,"k":"dd","f":18.77,"v":1.66e-9},{"p":1,"k":"dd","f":19.86,"v":7.9e-10},{"p":1,"k":"dd","f":21.45,"v":4.37e-10},{"p":1,"k":"dd","f":26.3,"v":1.78e-10},{"p":1,"k":"dd","f":27.54,"v":1.41e-10},
  {"p":1,"k":"dt","f":8.07,"v":1.56e-10},{"p":1,"k":"dt","f":10,"v":1.7e-10},{"p":1,"k":"dt","f":12.79,"v":2.4e-10},{"p":1,"k":"dt","f":14.91,"v":5.25e-10},{"p":1,"k":"dt","f":16.6,"v":1.29e-9},{"p":1,"k":"dt","f":17.38,"v":2.51e-9},{"p":1,"k":"dt","f":17.92,"v":1.78e-9},{"p":1,"k":"dt","f":18.77,"v":7.41e-10},{"p":1,"k":"dt","f":21.45,"v":2.69e-10},{"p":1,"k":"dt","f":26.3,"v":1.23e-10},{"p":1,"k":"dt","f":27.54,"v":1.12e-10},
  {"p":1,"k":"da","f":8.07,"v":9.3e-11},{"p":1,"k":"da","f":10,"v":1.0e-10},{"p":1,"k":"da","f":12.79,"v":1.23e-10},{"p":1,"k":"da","f":14.91,"v":2.19e-10},{"p":1,"k":"da","f":16.6,"v":5.25e-10},{"p":1,"k":"da","f":17.92,"v":3.02e-10},{"p":1,"k":"da","f":19.86,"v":1.55e-10},{"p":1,"k":"da","f":23.16,"v":7.9e-11},{"p":1,"k":"da","f":26.3,"v":4.37e-11},{"p":1,"k":"da","f":27.54,"v":3.5e-11},
  {"p":2,"k":"s","f":8.07,"v":3.94e-10},{"p":2,"k":"s","f":10,"v":3.8e-10},{"p":2,"k":"s","f":12.79,"v":3.52e-10},{"p":2,"k":"s","f":16.6,"v":3.02e-10},{"p":2,"k":"s","f":21.45,"v":2.11e-10},{"p":2,"k":"s","f":24,"v":1.8e-10},{"p":2,"k":"s","f":27.54,"v":1.46e-10},
  {"p":2,"k":"dd","f":8.07,"v":3.37e-10},{"p":2,"k":"dd","f":10,"v":3.3e-10},{"p":2,"k":"dd","f":12.79,"v":3.15e-10},{"p":2,"k":"dd","f":16.6,"v":2.53e-10},{"p":2,"k":"dd","f":21.45,"v":1.7e-10},{"p":2,"k":"dd","f":24,"v":1.37e-10},{"p":2,"k":"dd","f":27.54,"v":1.05e-10},
  {"p":2,"k":"dt","f":8.07,"v":1.69e-10},{"p":2,"k":"dt","f":10,"v":1.72e-10},{"p":2,"k":"dt","f":12.79,"v":1.73e-10},{"p":2,"k":"dt","f":16.6,"v":1.62e-10},{"p":2,"k":"dt","f":21.45,"v":1.3e-10},{"p":2,"k":"dt","f":24,"v":1.1e-10},{"p":2,"k":"dt","f":27.54,"v":8.7e-11},
  {"p":2,"k":"da","f":8.07,"v":9.95e-11},{"p":2,"k":"da","f":10,"v":1.0e-10},{"p":2,"k":"da","f":12.79,"v":1.0e-10},{"p":2,"k":"da","f":16.6,"v":9.3e-11},{"p":2,"k":"da","f":21.45,"v":7.46e-11},{"p":2,"k":"da","f":24,"v":6.7e-11},{"p":2,"k":"da","f":27.54,"v":5.96e-11},
  {"p":3,"k":"s","f":8.07,"v":2.83e-10},{"p":3,"k":"s","f":12.79,"v":2.26e-10},{"p":3,"k":"s","f":16.6,"v":1.81e-10},{"p":3,"k":"s","f":21.45,"v":1.3e-10},{"p":3,"k":"s","f":27.54,"v":9.3e-11},
  {"p":3,"k":"dd","f":8.07,"v":2.53e-10},{"p":3,"k":"dd","f":12.79,"v":2.03e-10},{"p":3,"k":"dd","f":16.6,"v":1.62e-10},{"p":3,"k":"dd","f":21.45,"v":1.16e-10},{"p":3,"k":"dd","f":27.54,"v":7.0e-11},
  {"p":3,"k":"da","f":8.07,"v":8.7e-11},{"p":3,"k":"da","f":12.79,"v":8.3e-11},{"p":3,"k":"da","f":16.6,"v":8.0e-11},{"p":3,"k":"da","f":21.45,"v":7.15e-11},{"p":3,"k":"da","f":27.54,"v":5.58e-11},
  {"p":3,"k":"dt","f":8.07,"v":6.68e-11},{"p":3,"k":"dt","f":12.79,"v":5.75e-11},{"p":3,"k":"dt","f":16.6,"v":4.79e-11},{"p":3,"k":"dt","f":21.45,"v":4.1e-11},{"p":3,"k":"dt","f":27.54,"v":3.5e-11}
 ]
},
"hconcat":[
 {
  "width":197,"height":255,
  "resolve":{"axis":{"x":"independent","y":"independent"}},
  "layer":[
   {
    "data":{"name":"a_dat"},
    "mark":{"type":"line","strokeWidth":1.2,"clip":true},
    "encoding":{
     "x":{"field":"f","type":"quantitative","scale":{"type":"log","domain":[4,30]},"axis":{"orient":"bottom","values":[4,6,7,8,9,15,25],"labels":false,"title":null,"grid":true,"gridDash":[1,3],"gridColor":"#aaa","tickSize":-3}},
     "y":{"field":"v","type":"quantitative","scale":{"type":"log","domain":[0.0247,100]},"axis":{"orient":"left","values":[0.03,0.04,0.05,0.06,0.07,0.08,0.09,0.2,0.3,0.4,0.5,0.6,0.7,0.8,0.9,2,3,4,5,6,7,8,9,20,30,40,50,60,70,80,90],"labels":false,"title":null,"grid":true,"gridDash":[1,3],"gridColor":"#aaa","tickSize":-3}},
     "stroke":{"field":"s","type":"nominal","scale":{"domain":["b","o","g","r","p"],"range":["#5b9ce6","#eba12c","#7cc62a","#f0502e","#8f80f0"]},
      "legend":{"title":null,"orient":"none","legendX":113,"legendY":18.5,"padding":2,"fillColor":"white","symbolType":"stroke","symbolStrokeWidth":1.5,"symbolSize":180,"labelFontSize":7.5,"rowPadding":3.5,"labelExpr":"datum.label=='b'?'feff=7.03 Hz, Qeff=70':datum.label=='o'?'feff=8.19 Hz, Qeff=21':datum.label=='g'?'feff=11.6 Hz, Qeff=15':datum.label=='r'?'feff=16.5 Hz, Qeff=20':'feff=23.0 Hz, Qeff=19'"}}
    }
   },
   {
    "data":{"name":"a_fit"},
    "transform":[{"filter":"datum.s != 'k'"}],
    "mark":{"type":"line","strokeWidth":1.3,"color":"#000","strokeDash":[6,4],"clip":true,"interpolate":"monotone"},
    "encoding":{
     "x":{"field":"f","type":"quantitative","scale":{"type":"log","domain":[4,30]},"axis":{"orient":"bottom","values":[5,10,20,30],"title":"f (Hz)","grid":true,"format":"~g","tickSize":-5,"labelPadding":8}},
     "y":{"field":"v","type":"quantitative","scale":{"type":"log","domain":[0.0247,100]},"axis":{"orient":"left","values":[0.1,1,10,100],"title":"|χeff(f)| / |χ(0)|","labelExpr":"datum.value==100?'10²':datum.value==10?'10¹':datum.value==1?'10⁰':'10⁻¹'","grid":true,"tickSize":-5,"labelPadding":8,"titlePadding":2}},
     "detail":{"field":"s"}
    }
   },
   {
    "data":{"name":"a_fit"},
    "transform":[{"filter":"datum.s == 'k'"}],
    "mark":{"type":"line","strokeWidth":1.3,"strokeDash":[6,4],"clip":true,"interpolate":"monotone"},
    "encoding":{
     "x":{"field":"f","type":"quantitative","scale":{"type":"log","domain":[4,30]},"axis":null},
     "y":{"field":"v","type":"quantitative","scale":{"type":"log","domain":[0.0247,100]},"axis":null},
     "color":{"field":"s","type":"nominal","scale":{"domain":["k"],"range":["#000000"]},
      "legend":{"title":null,"orient":"none","legendX":113,"legendY":4,"padding":2,"fillColor":"white","symbolType":"stroke","symbolStrokeWidth":1.5,"symbolDash":[5,3],"symbolSize":180,"labelFontSize":7.5,"labelExpr":"'f=6.72 Hz, Q=8.5x10⁴'"}}
    }
   },
   {
    "data":{"values":[{"f":2.94,"v":107,"t":"(a)"}]},
    "mark":{"type":"text","fontSize":11,"color":"#222","align":"center","baseline":"middle"},
    "encoding":{
     "x":{"field":"f","type":"quantitative","scale":{"type":"log","domain":[4,30]},"axis":null},
     "y":{"field":"v","type":"quantitative","scale":{"type":"log","domain":[0.0247,100]},"axis":null},
     "text":{"field":"t"}
    }
   }
  ]
 },
 {
  "bounds":"flush",
  "spacing":5,
  "resolve":{"scale":{"color":"independent","strokeDash":"independent"},"legend":{"color":"independent","strokeDash":"independent"}},
  "hconcat":[
   {
    "width":275,"height":255,
    "resolve":{"axis":{"x":"independent","y":"independent"}},
    "layer":[
     {
      "data":{"name":"b_band"},
      "mark":{"type":"area","opacity":0.3,"clip":true,"interpolate":"monotone"},
      "encoding":{
       "x":{"field":"f","type":"quantitative","scale":{"type":"log","domain":[7.94,28.2]},"axis":{"orient":"bottom","values":[8,9,11,12,13,14,16,17,18,19,21,22,23,24,26,27,28],"labels":false,"title":null,"grid":true,"gridDash":[1,3],"gridColor":"#aaa","tickSize":-3}},
       "y":{"field":"lo","type":"quantitative","scale":{"type":"log","domain":[5.05e-11,1e-8]},"axis":{"orient":"left","values":[6e-11,7e-11,8e-11,9e-11,2e-10,3e-10,4e-10,5e-10,6e-10,7e-10,8e-10,9e-10,2e-9,3e-9,4e-9,5e-9,6e-9,7e-9,8e-9,9e-9],"labels":false,"title":null,"grid":true,"gridDash":[1,3],"gridColor":"#aaa","tickSize":-3}},
       "y2":{"field":"hi"},
       "color":{"field":"s","type":"nominal","scale":{"domain":["b","o","g","r","p"],"range":["#5b9ce6","#eba12c","#7cc62a","#f0502e","#8f80f0"]},"legend":null}
      }
     },
     {
      "data":{"name":"b_fit"},
      "mark":{"type":"line","strokeWidth":1.6,"clip":true,"interpolate":"monotone"},
      "encoding":{
       "x":{"field":"f","type":"quantitative","scale":{"type":"log","domain":[7.94,28.2]},"axis":{"orient":"bottom","values":[10,15,20,25],"title":"f (Hz)","grid":true,"format":"~g","tickSize":-5,"labelPadding":8}},
       "y":{"field":"v","type":"quantitative","scale":{"type":"log","domain":[5.05e-11,1e-8]},"axis":{"orient":"left","values":[1e-10,1e-9,1e-8],"title":"√Sθθ (rad/√Hz)","labelExpr":"datum.value==1e-8?'10⁻⁸':datum.value==1e-9?'10⁻⁹':'10⁻¹⁰'","grid":true,"tickSize":-5,"labelPadding":8,"titlePadding":2}},
       "color":{"field":"s","type":"nominal","scale":{"domain":["b","o","g","r","p"],"range":["#5b9ce6","#eba12c","#7cc62a","#f0502e","#8f80f0"]},
        "legend":{"title":null,"orient":"top-left","offset":11,"padding":2,"fillColor":"white","symbolType":"stroke","symbolStrokeWidth":1.5,"symbolSize":200,"labelFontSize":7.5,"rowPadding":5.2,"labelExpr":"datum.label=='b'?'Teff=17. mK (Qeff=25.)':datum.label=='o'?'Teff=6.9 mK (Qeff=9.8)':datum.label=='g'?'Teff=1.7 mK (Qeff=2.6)':datum.label=='r'?'Teff=0.56 mK (Qeff=0.94)':'Teff=0.24 mK (Qeff=0.58)'"}}
      }
     },
     {
      "data":{"name":"b_pts"},
      "transform":[{"filter":"isValid(datum.lo)"}],
      "mark":{"type":"rule","strokeWidth":1.3,"clip":true},
      "encoding":{
       "x":{"field":"f","type":"quantitative","scale":{"type":"log","domain":[7.94,28.2]},"axis":null},
       "y":{"field":"lo","type":"quantitative","scale":{"type":"log","domain":[5.05e-11,1e-8]},"axis":null},
       "y2":{"field":"hi"},
       "color":{"field":"s","type":"nominal","legend":null}
      }
     },
     {
      "data":{"name":"b_pts"},
      "mark":{"type":"circle","size":26,"opacity":1,"clip":true},
      "encoding":{
       "x":{"field":"f","type":"quantitative","scale":{"type":"log","domain":[7.94,28.2]},"axis":null},
       "y":{"field":"v","type":"quantitative","scale":{"type":"log","domain":[5.05e-11,1e-8]},"axis":null},
       "color":{"field":"s","type":"nominal","legend":null}
      }
     },
     {
      "data":{"name":"noise"},
      "mark":{"type":"line","strokeWidth":1.6,"color":"#000","strokeDash":[7,4],"clip":true},
      "encoding":{
       "x":{"field":"f","type":"quantitative","scale":{"type":"log","domain":[7.94,28.2]},"axis":null},
       "y":{"field":"v","type":"quantitative","scale":{"type":"log","domain":[5.05e-11,1e-8]},"axis":null}
      }
     },
     {
      "data":{"values":[{"f":9.86,"v":7.64e-11,"t":"detection noise"},{"f":6.14,"v":1.04e-8,"t":"(b)"}]},
      "mark":{"type":"text","fontSize":11,"align":"center","baseline":"middle"},
      "encoding":{
       "x":{"field":"f","type":"quantitative","scale":{"type":"log","domain":[7.94,28.2]},"axis":null},
       "y":{"field":"v","type":"quantitative","scale":{"type":"log","domain":[5.05e-11,1e-8]},"axis":null},
       "text":{"field":"t"},
       "color":{"condition":{"test":"datum.t=='(b)'","value":"#222"},"value":"#555"}
      }
     }
    ]
   },
   {
    "bounds":"flush",
    "spacing":4,
    "vconcat":[
     {
      "width":80,"height":82,
      "layer":[
       {
        "data":{"name":"c"},
        "transform":[{"filter":"datum.p==1"}],
        "mark":{"type":"line","strokeWidth":1.5,"color":"#5b9ce6","clip":true,"interpolate":"monotone"},
        "encoding":{
         "x":{"field":"f","type":"quantitative","scale":{"type":"log","domain":[8.05,27.6]},"axis":{"values":[10,15,20,25],"labels":false,"title":null,"grid":true,"tickSize":-3}},
         "y":{"field":"v","type":"quantitative","scale":{"type":"log","domain":[4.5e-11,1.05e-8]},"axis":{"orient":"right","values":[1e-8,1e-9,1e-10],"labelExpr":"datum.value==1e-8?'10⁻⁸':datum.value==1e-9?'10⁻⁹':''","title":null,"grid":true,"tickSize":-3,"labelPadding":6,"labelFontSize":10.5}},
         "strokeDash":{"field":"k","type":"nominal","scale":{"domain":["s","dd","dt","da"],"range":[[1,0],[7,2,1,2],[1,2],[5,3]]},"legend":null}
        }
       },
       {
        "data":{"values":[{"f":8.7,"v":6.2e-9,"t":"Qeff=25."}]},
        "mark":{"type":"text","fontSize":7,"color":"#555","align":"left","baseline":"middle"},
        "encoding":{"x":{"field":"f","type":"quantitative","scale":{"type":"log","domain":[8.05,27.6]}},"y":{"field":"v","type":"quantitative","scale":{"type":"log","domain":[4.5e-11,1.05e-8]}},"text":{"field":"t"}}
       }
      ]
     },
     {
      "width":80,"height":82,
      "layer":[
       {
        "data":{"name":"c"},
        "transform":[{"filter":"datum.p==2"}],
        "mark":{"type":"line","strokeWidth":1.5,"color":"#f0502e","clip":true,"interpolate":"monotone"},
        "encoding":{
         "x":{"field":"f","type":"quantitative","scale":{"type":"log","domain":[8.05,27.6]},"axis":{"values":[10,15,20,25],"labels":false,"title":null,"grid":true,"tickSize":-3}},
         "y":{"field":"v","type":"quantitative","scale":{"type":"log","domain":[4.5e-11,1.05e-8]},"axis":{"orient":"right","values":[1e-8,1e-9,1e-10],"labelExpr":"datum.value==1e-8?'10⁻⁸':datum.value==1e-9?'10⁻⁹':''","title":null,"grid":true,"tickSize":-3,"labelPadding":6,"labelFontSize":10.5}},
         "strokeDash":{"field":"k","type":"nominal","scale":{"domain":["s","dd","dt","da"],"range":[[1,0],[7,2,1,2],[1,2],[5,3]]},"legend":null}
        }
       },
       {
        "data":{"values":[{"f":8.7,"v":6.2e-9,"t":"Qeff=0.94"}]},
        "mark":{"type":"text","fontSize":7,"color":"#555","align":"left","baseline":"middle"},
        "encoding":{"x":{"field":"f","type":"quantitative","scale":{"type":"log","domain":[8.05,27.6]}},"y":{"field":"v","type":"quantitative","scale":{"type":"log","domain":[4.5e-11,1.05e-8]}},"text":{"field":"t"}}
       }
      ]
     },
     {
      "width":80,"height":83,
      "layer":[
       {
        "data":{"name":"c"},
        "transform":[{"filter":"datum.p==3"}],
        "mark":{"type":"line","strokeWidth":1.5,"color":"#8f80f0","clip":true,"interpolate":"monotone"},
        "encoding":{
         "x":{"field":"f","type":"quantitative","scale":{"type":"log","domain":[8.05,27.6]},"axis":{"values":[10,15,20,25],"title":"f (Hz)","format":"~g","grid":true,"tickSize":-3,"labelPadding":7,"labelFontSize":10.5}},
         "y":{"field":"v","type":"quantitative","scale":{"type":"log","domain":[4.5e-11,1.05e-8]},"axis":{"orient":"right","values":[1e-8,1e-9,1e-10],"labelExpr":"datum.value==1e-8?'10⁻⁸':datum.value==1e-9?'10⁻⁹':'10⁻¹⁰'","title":null,"grid":true,"tickSize":-3,"labelPadding":6,"labelFontSize":10.5}},
         "strokeDash":{"field":"k","type":"nominal","scale":{"domain":["s","dd","dt","da"],"range":[[1,0],[7,2,1,2],[1,2],[5,3]]},"legend":null}
        }
       },
       {
        "data":{"values":[{"f":8.7,"v":6.2e-9,"t":"Qeff=0.58"}]},
        "mark":{"type":"text","fontSize":7,"color":"#555","align":"left","baseline":"middle"},
        "encoding":{"x":{"field":"f","type":"quantitative","scale":{"type":"log","domain":[8.05,27.6]}},"y":{"field":"v","type":"quantitative","scale":{"type":"log","domain":[4.5e-11,1.05e-8]}},"text":{"field":"t"}}
       }
      ]
     }
    ]
   }
  ]
 }
]
}
